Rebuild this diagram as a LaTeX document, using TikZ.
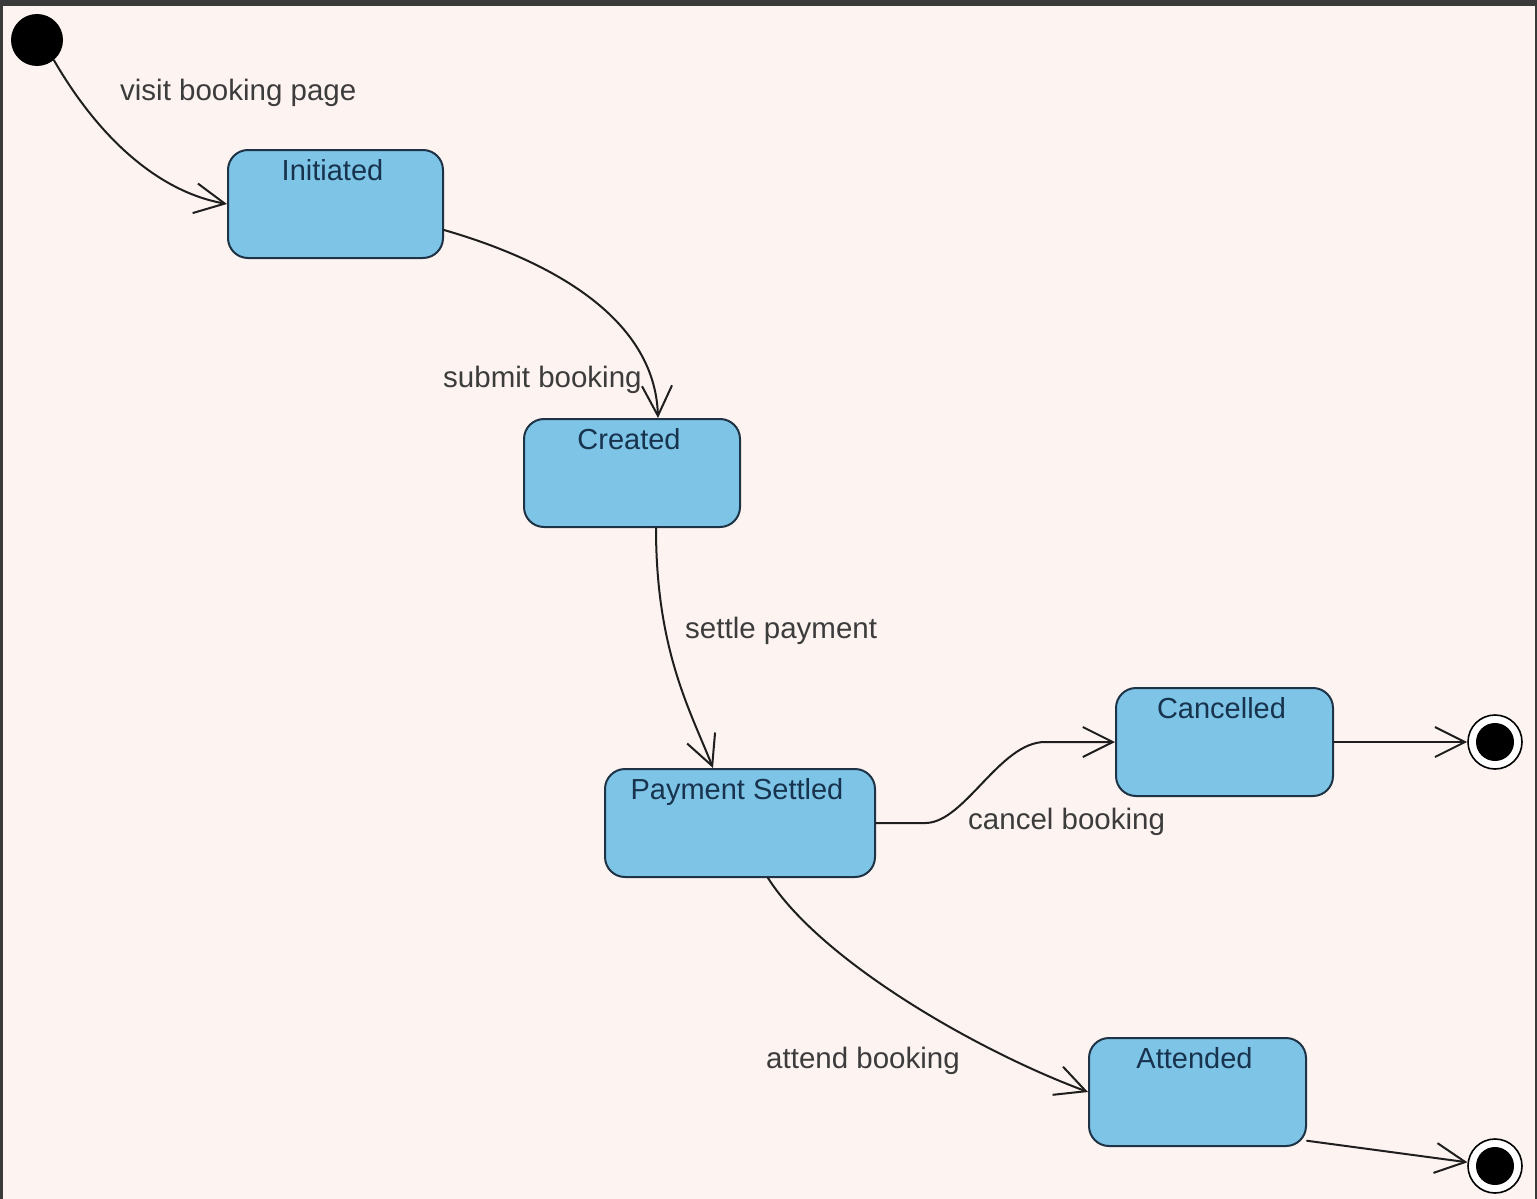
\documentclass[tikz,border=0pt]{standalone}
\usepackage{fontspec}
\setmainfont{Liberation Sans}
\usetikzlibrary{arrows.meta,calc}
\definecolor{bgc}{HTML}{FDF3F0}
\definecolor{frame}{HTML}{3A3A3A}
\definecolor{boxfill}{HTML}{7DC4E7}
\definecolor{boxline}{HTML}{1E3346}
\definecolor{titlec}{HTML}{17334D}
\definecolor{lblc}{HTML}{3C3C3C}
\definecolor{linec}{HTML}{1E1E1E}
\begin{document}
\begin{tikzpicture}[x=1pt,y=-1pt,
  statebox/.style={draw=boxline, line width=2pt, fill=boxfill, rounded corners=20pt, minimum height=108pt, inner sep=0pt},
  title/.style={font=\fontsize{29}{33}\selectfont, text=titlec, anchor=base, yshift=-31pt, xshift=-3pt, inner sep=0pt},
  lbl/.style={font=\fontsize{29.5}{33}\selectfont, text=lblc, anchor=base west, inner sep=0pt},
  trans/.style={draw=linec, line width=2pt, line cap=round, -{Straight Barb[length=30pt,width=30pt]}},
  finalstate/.style={circle, draw=black, line width=1.6pt, fill=white, minimum size=54pt, inner sep=0pt,
    path picture={\fill[black] (path picture bounding box.center) circle[radius=19pt];}}
]
% background and frame
\fill[bgc] (0,0) rectangle (1537,1199);
\fill[frame] (0,0) rectangle (1537,6);
\fill[frame] (0,0) rectangle (3,1199);
\fill[frame] (1535,0) rectangle (1537,1199);
\useasboundingbox (0,0) rectangle (1537,1199);

% states
\node[circle, fill=black, minimum size=52pt, inner sep=0pt] (init) at (37,40) {};
\node[statebox, minimum width=215pt, label={[title]north:Initiated}] (ini) at (335.5,204) {};
\node[statebox, minimum width=216pt, label={[title]north:Created}] (cre) at (632,473) {};
\node[statebox, minimum width=270pt, label={[title]north:Payment Settled}] (pay) at (740,823) {};
\node[statebox, minimum width=217pt, label={[title]north:Cancelled}] (can) at (1224.5,742) {};
\node[statebox, minimum width=217pt, label={[title]north:Attended}] (att) at (1197.5,1092) {};
\node[finalstate] (fin1) at (1495,742) {};
\node[finalstate] (fin2) at (1495,1166) {};

% transitions
\draw[trans] (init.-50) .. controls (100,140) and (160,192) .. (ini.west);
\draw[trans] ([yshift=-26pt]ini.east) .. controls (555,262) and (655,320) .. ([xshift=26pt]cre.north);
\draw[trans] ([xshift=24pt]cre.south) .. controls (656,650) and (690,710) .. ([xshift=-27pt]pay.north);
\draw[trans] (pay.east) -- ++(50,0) .. controls (965,822) and (1000,742) .. (1045,742) -- (can.west);
\draw[trans] ([xshift=28pt]pay.south) .. controls (820,960) and (975,1050) .. (att.west);
\draw[trans] (can.east) -- (fin1);
\draw[trans] (att.-24.7) -- (fin2);

% transition labels
\node[lbl] (l1) at (120,100) {visit booking page};
\node[lbl] (l2) at (443,387) {submit booking};
\node[lbl] (l3) at (685,638) {settle payment};
\node[lbl] (l4) at (968,829) {cancel booking};
\node[lbl] (l5) at (766,1068) {attend booking};
\end{tikzpicture}
\end{document}
